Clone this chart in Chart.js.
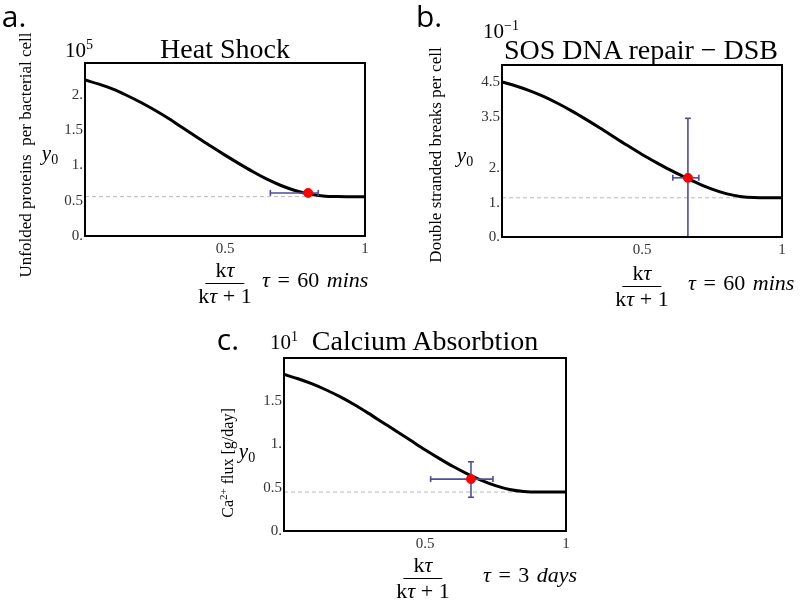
<!DOCTYPE html>
<html>
<head>
<meta charset="utf-8">
<script src="https://cdn.jsdelivr.net/npm/chart.js@4"></script>
<style>
  body { margin: 0; background: #fff; }
  #page { position: relative; width: 800px; height: 606px; overflow: hidden; font-family: "Liberation Serif", serif; color: #000; }
  canvas { position: absolute; }
  .t, .l { position: absolute; white-space: nowrap; line-height: 1; }
  .t { transform: translate(-50%, -50%); }
  .l { transform: translate(0, -50%); }
  .letter { font-family: "Open Sans", sans-serif; font-size: 30px; }
  .title { font-size: 28px; }
  .exp { font-size: 21px; }
  .exp span { font-size: 14px; position: relative; top: -8px; }
  .y0 { font-size: 21px; font-style: italic; }
  .y0 sub { font-style: normal; font-size: 14px; vertical-align: -4px; }
  .rot { transform: translate(-50%, -50%) rotate(-90deg); font-size: 17px; }
  .frac { display: flex; flex-direction: column; align-items: center; font-size: 22px; }
  .frac div { padding: 0 1px; line-height: 24px; }
  .frac .num { border-bottom: 1px solid #000; padding: 0 10px 1px; }
  .tau { font-size: 22px; word-spacing: 2px; }
</style>
</head>
<body>
<div id="page">
  <canvas id="heat" width="380" height="270" style="left:0;top:0"></canvas>
  <canvas id="sos" width="400" height="270" style="left:400px;top:0"></canvas>
  <canvas id="cal" width="400" height="270" style="left:200px;top:300px"></canvas>

  <div class="t letter" style="left:14px;top:16px">a.</div>
  <div class="l exp" style="left:65px;top:50px">10<span>5</span></div>
  <div class="t title" style="left:225px;top:49px">Heat Shock</div>
  <div class="t rot" style="left:25px;top:155px">Unfolded proteins&nbsp; per bacterial cell</div>
  <div class="t y0" style="left:50px;top:155px">y<sub>0</sub></div>
  <div class="t frac" style="left:225px;top:283px"><div class="num">k<i>τ</i></div><div>k<i>τ</i> + 1</div></div>
  <div class="l tau" style="left:262px;top:280px"><i>τ</i> = 60 <i>mins</i></div>

  <div class="t letter" style="left:429px;top:16px">b.</div>
  <div class="l exp" style="left:483px;top:31px">10<span>−1</span></div>
  <div class="t title" style="left:641px;top:50px">SOS DNA repair − DSB</div>
  <div class="t rot" style="left:435px;top:155px">Double stranded breaks per cell</div>
  <div class="t y0" style="left:465px;top:157px">y<sub>0</sub></div>
  <div class="t frac" style="left:642px;top:286px"><div class="num">k<i>τ</i></div><div>k<i>τ</i> + 1</div></div>
  <div class="l tau" style="left:688px;top:283px"><i>τ</i> = 60 <i>mins</i></div>

  <div class="t letter" style="left:228px;top:339px">c.</div>
  <div class="l exp" style="left:270px;top:342px">10<span>1</span></div>
  <div class="t title" style="left:425px;top:341px">Calcium Absorbtion</div>
  <div class="t rot" style="left:228px;top:463px;font-size:16px">Ca<span style="font-size:11px;position:relative;top:-6px">2+</span> flux [g/day]</div>
  <div class="t y0" style="left:247px;top:453px">y<sub>0</sub></div>
  <div class="t frac" style="left:423px;top:578px"><div class="num">k<i>τ</i></div><div>k<i>τ</i> + 1</div></div>
  <div class="l tau" style="left:483px;top:575px"><i>τ</i> = 3 <i>days</i></div>
</div>

<script>
// x = kτ/(kτ+1), shared by all three curves
const xs = [0, 0.05, 0.1, 0.15, 0.2, 0.25, 0.3, 0.35, 0.4, 0.45, 0.5,
            0.55, 0.6, 0.65, 0.7, 0.75, 0.8, 0.85, 0.9, 0.95, 1];
const xTicks = [0.5, 1];
const xTickLabels = ['0.5', '1'];

// a. Heat Shock (x10^5)
const heatY = [2.21, 2.15, 2.08, 1.99, 1.89, 1.78, 1.66, 1.53, 1.40, 1.27, 1.145,
               1.025, 0.91, 0.805, 0.715, 0.645, 0.595, 0.568, 0.558, 0.556, 0.556];
const heatBase = 0.557;
const heatPt = [0.797, 0.61];
const heatErrX = [0.662, 0.833];
const heatErrY = null;
const heatTicks = [0, 0.5, 1, 1.5, 2];
const heatTickLabels = ['0.', '0.5', '1.', '1.5', '2.'];

// b. SOS DNA repair - DSB (x10^-1)
const sosY = [4.51, 4.39, 4.25, 4.08, 3.88, 3.66, 3.42, 3.17, 2.91, 2.65, 2.40,
              2.17, 1.95, 1.75, 1.56, 1.39, 1.26, 1.18, 1.145, 1.14, 1.14];
const sosBase = 1.14;
const sosPt = [0.664, 1.72];
const sosErrX = [0.61, 0.703];
const sosErrY = [0, 3.45];
const sosTicks = [0, 1, 2, 3.5, 4.5];
const sosTickLabels = ['0.', '1.', '2.', '3.5', '4.5'];

// c. Calcium Absorbtion (x10^1)
const calY = [1.81, 1.76, 1.70, 1.63, 1.55, 1.46, 1.36, 1.255, 1.15, 1.045, 0.94,
              0.84, 0.745, 0.66, 0.585, 0.525, 0.48, 0.457, 0.45, 0.45, 0.45];
const calBase = 0.45;
const calPt = [0.663, 0.60];
const calErrX = [0.52, 0.741];
const calErrY = [0.39, 0.80];
const calTicks = [0, 0.5, 1, 1.5];
const calTickLabels = ['0.', '0.5', '1.', '1.5'];

const tickFont = { family: 'Liberation Serif', size: 15 };

function panel(id, o) {
  const extras = {
    id: 'extras',
    beforeDatasetDraw(chart, args) {
      if (args.index !== 0) return;
      const { ctx, scales: { x, y } } = chart;
      const px = x.getPixelForValue(o.pt[0]);
      const py = y.getPixelForValue(o.pt[1]);
      const line = (x1, y1, x2, y2) => {
        ctx.beginPath(); ctx.moveTo(x1, y1); ctx.lineTo(x2, y2); ctx.stroke();
      };
      ctx.save();
      ctx.strokeStyle = '#4d4d9e';
      ctx.lineWidth = 1.6;
      if (o.errX) {
        const a = x.getPixelForValue(o.errX[0]), b = x.getPixelForValue(o.errX[1]);
        line(a, py, b, py);
        line(a, py - 3, a, py + 3);
        line(b, py - 3, b, py + 3);
      }
      if (o.errY) {
        const a = y.getPixelForValue(o.errY[0]), b = y.getPixelForValue(o.errY[1]);
        line(px, a, px, b);
        line(px - 3, a, px + 3, a);
        line(px - 3, b, px + 3, b);
      }
      ctx.restore();
    },
    afterDraw(chart) {
      const { ctx, chartArea: a } = chart;
      ctx.save();
      ctx.strokeStyle = '#000';
      ctx.lineWidth = 2;
      ctx.strokeRect(a.left, a.top, a.width, a.height);
      ctx.restore();
    }
  };

  new Chart(document.getElementById(id), {
    type: 'line',
    data: {
      datasets: [
        {
          data: [{ x: o.pt[0], y: o.pt[1] }],
          showLine: false,
          pointRadius: 4.5,
          pointBackgroundColor: '#ff0000',
          pointBorderColor: '#ff0000'
        },
        {
          data: xs.map((x, i) => ({ x: x, y: o.ys[i] })),
          borderColor: '#000',
          borderWidth: 3,
          pointRadius: 0,
          cubicInterpolationMode: 'monotone'
        },
        {
          data: [{ x: 0, y: o.base }, { x: 1, y: o.base }],
          borderColor: '#b8b8b8',
          borderWidth: 1,
          borderDash: [4, 3],
          pointRadius: 0
        }
      ]
    },
    options: {
      responsive: false,
      animation: false,
      layout: { padding: { top: o.top, right: o.right, left: 0, bottom: 0 } },
      plugins: { legend: { display: false }, tooltip: { enabled: false } },
      scales: {
        x: {
          type: 'linear', min: 0, max: 1,
          grid: { display: false, drawTicks: false },
          border: { display: false },
          afterBuildTicks: s => { s.ticks = xTicks.map(v => ({ value: v })); },
          afterFit: s => { s.height = o.xh; },
          ticks: {
            padding: 4, autoSkip: false, maxRotation: 0, font: tickFont, color: '#333',
            callback: (v, i) => xTickLabels[i]
          }
        },
        y: {
          min: 0, max: o.ymax,
          grid: { display: false, drawTicks: false },
          border: { display: false },
          afterBuildTicks: s => { s.ticks = o.ticks.map(v => ({ value: v })); },
          afterFit: s => { s.width = o.yw; },
          ticks: {
            padding: 2, autoSkip: false, font: tickFont, color: '#333',
            callback: (v, i) => o.labels[i]
          }
        }
      }
    },
    plugins: [extras]
  });
}

panel('heat', { ys: heatY, base: heatBase, pt: heatPt, errX: heatErrX, errY: heatErrY,
  ticks: heatTicks, labels: heatTickLabels, ymax: 2.45, top: 63, right: 15, yw: 85, xh: 34 });
panel('sos', { ys: sosY, base: sosBase, pt: sosPt, errX: sosErrX, errY: sosErrY,
  ticks: sosTicks, labels: sosTickLabels, ymax: 5, top: 65, right: 18, yw: 102, xh: 33 });
panel('cal', { ys: calY, base: calBase, pt: calPt, errX: calErrX, errY: calErrY,
  ticks: calTicks, labels: calTickLabels, ymax: 2, top: 58, right: 34, yw: 84, xh: 39 });
</script>
</body>
</html>
